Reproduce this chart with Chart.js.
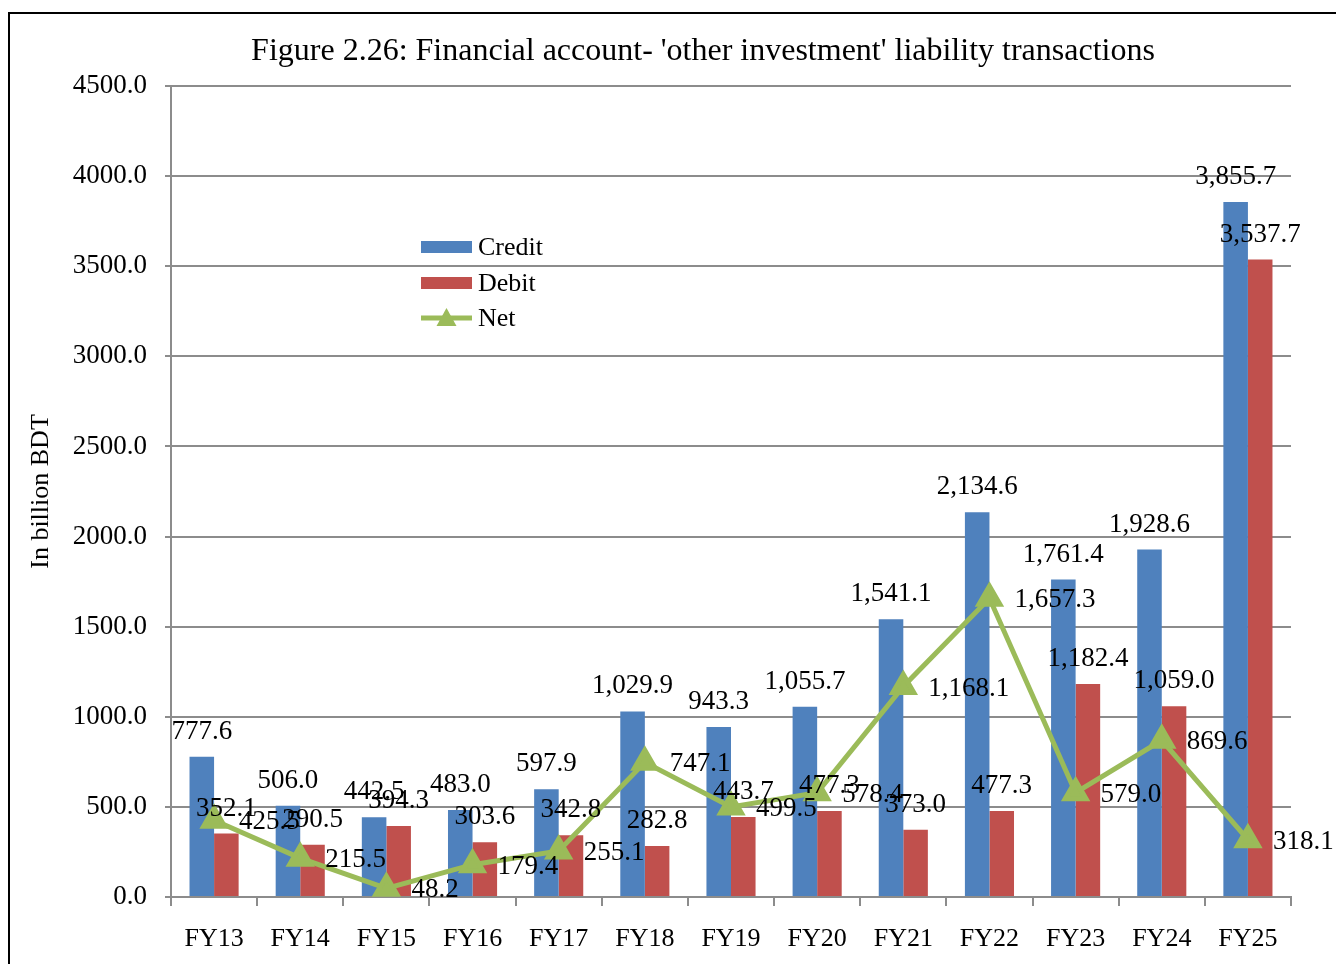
<!DOCTYPE html>
<html>
<head>
<meta charset="utf-8">
<script src="https://cdn.jsdelivr.net/npm/chart.js@4/dist/chart.umd.min.js"></script>
<style>
  html, body { margin: 0; padding: 0; background: #fff; }
  #wrap { width: 1336px; height: 964px; }
</style>
</head>
<body>
<div id="wrap"><canvas id="liabChart" width="1336" height="964"></canvas></div>
<script>
const years = ['FY13', 'FY14', 'FY15', 'FY16', 'FY17', 'FY18', 'FY19', 'FY20', 'FY21', 'FY22', 'FY23', 'FY24', 'FY25'];
const credit = [777.6, 506.0, 442.5, 483.0, 597.9, 1029.9, 943.3, 1055.7, 1541.1, 2134.6, 1761.4, 1928.6, 3855.7];
const debit = [352.1, 290.5, 394.3, 303.6, 342.8, 282.8, 443.7, 477.3, 373.0, 477.3, 1182.4, 1059.0, 3537.7];
const net = [425.5, 215.5, 48.2, 179.4, 255.1, 747.1, 499.5, 578.4, 1168.1, 1657.3, 579.0, 869.6, 318.1];

const serif = '"Liberation Serif", "Times New Roman", serif';
const blue = '#4F81BD';
const red = '#C0504D';
const green = '#9BBB59';
const gridCol = '#8C8C8C';
const figTitle = "Figure 2.26: Financial account- 'other investment' liability transactions";

const fmt = v => v.toLocaleString('en-US', { minimumFractionDigits: 1, maximumFractionDigits: 1 });

// white page, frame and title of the figure
const frame = {
    id: 'frame',
    beforeDraw(chart) {
        const c = chart.ctx;
        c.save();
        c.fillStyle = '#fff';
        c.fillRect(0, 0, chart.width, chart.height);
        c.strokeStyle = '#000';
        c.lineWidth = 2;
        c.strokeRect(9, 13, 1400, 1000);
        c.font = '32px ' + serif;
        c.fillStyle = '#000';
        c.textAlign = 'center';
        c.textBaseline = 'middle';
        c.fillText(figTitle, 703, 52);
        c.restore();
    }
};

// value labels like the spreadsheet ones
const valueLabels = {
    id: 'valueLabels',
    afterDatasetsDraw(chart) {
        const c = chart.ctx;
        c.save();
        c.font = '27px ' + serif;
        c.fillStyle = '#000';
        c.textBaseline = 'middle';
        chart.data.datasets.forEach((ds, i) => {
            const meta = chart.getDatasetMeta(i);
            meta.data.forEach((el, j) => {
                const txt = fmt(ds.data[j]);
                if (ds.type === 'line') {
                    c.textAlign = 'left';
                    c.fillText(txt, el.x + 25, el.y + 2);
                } else {
                    c.textAlign = 'center';
                    c.fillText(txt, el.x, el.y - 25);
                }
            });
        });
        c.restore();
    }
};

// legend sitting inside the plot
const innerLegend = {
    id: 'innerLegend',
    afterDraw(chart) {
        const c = chart.ctx;
        const x = 421, w = 51;
        c.save();
        c.font = '26px ' + serif;
        c.textAlign = 'left';
        c.textBaseline = 'middle';
        c.fillStyle = blue;
        c.fillRect(x, 241, w, 12);
        c.fillStyle = red;
        c.fillRect(x, 277, w, 12);
        c.strokeStyle = green;
        c.lineWidth = 5;
        c.beginPath();
        c.moveTo(x, 318);
        c.lineTo(x + w, 318);
        c.stroke();
        c.fillStyle = green;
        c.beginPath();
        c.moveTo(x + w / 2, 308);
        c.lineTo(x + w / 2 + 10, 326);
        c.lineTo(x + w / 2 - 10, 326);
        c.closePath();
        c.fill();
        c.fillStyle = '#000';
        c.fillText('Credit', 478, 248);
        c.fillText('Debit', 478, 284);
        c.fillText('Net', 478, 319);
        c.restore();
    }
};

const ctx = document.getElementById('liabChart').getContext('2d');
const liabChart = new Chart(ctx, {
    data: {
        labels: years,
        datasets: [
            {
                type: 'line',
                label: 'Net',
                data: net,
                borderColor: green,
                backgroundColor: green,
                borderWidth: 5,
                pointStyle: 'triangle',
                pointRadius: 12,
                pointHoverRadius: 12,
                tension: 0,
                order: 0
            },
            {
                type: 'bar',
                label: 'Credit',
                data: credit,
                backgroundColor: blue,
                barPercentage: 1,
                categoryPercentage: 0.57,
                order: 1
            },
            {
                type: 'bar',
                label: 'Debit',
                data: debit,
                backgroundColor: red,
                barPercentage: 1,
                categoryPercentage: 0.57,
                order: 2
            }
        ]
    },
    options: {
        responsive: false,
        animation: false,
        devicePixelRatio: 1,
        layout: {
            padding: { left: 0, right: 45, top: 86, bottom: 0 }
        },
        plugins: {
            legend: { display: false },
            tooltip: { enabled: false },
            title: { display: false }
        },
        scales: {
            x: {
                offset: true,
                grid: {
                    offset: true,
                    drawOnChartArea: false,
                    color: gridCol,
                    tickLength: 9,
                    lineWidth: 2
                },
                border: { color: gridCol, width: 2 },
                ticks: {
                    color: '#000',
                    font: { family: serif, size: 26 },
                    padding: 18,
                    maxRotation: 0
                },
                afterFit(s) { s.height = 67; }
            },
            y: {
                min: 0,
                max: 4500,
                ticks: {
                    stepSize: 500,
                    color: '#000',
                    font: { family: serif, size: 27 },
                    padding: 18,
                    callback: v => v.toFixed(1)
                },
                grid: {
                    color: gridCol,
                    lineWidth: 2,
                    tickLength: 6
                },
                border: { color: gridCol, width: 2 },
                title: {
                    display: true,
                    text: 'In billion BDT',
                    color: '#000',
                    font: { family: serif, size: 26 },
                    padding: { top: 26, bottom: 0 }
                },
                afterFit(s) { s.width = 171; }
            }
        }
    },
    plugins: [frame, valueLabels, innerLegend]
});
</script>
</body>
</html>
